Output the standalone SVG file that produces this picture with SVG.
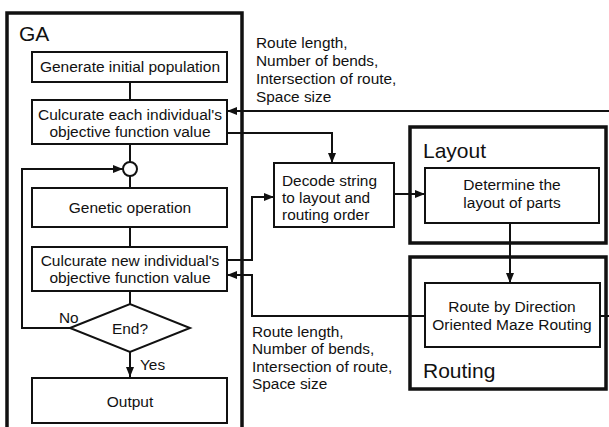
<svg xmlns="http://www.w3.org/2000/svg" width="609" height="427" viewBox="0 0 609 427">
<style>
text{font-family:"Liberation Sans",Arial,sans-serif;fill:#111}
.box{fill:#fff;stroke:#111;stroke-width:2}
.frame{fill:none;stroke:#111;stroke-width:3.5}
.t{font-size:15.5px;text-anchor:middle}
.lbl{font-size:15.4px}
.big{font-size:21px}
.c{fill:none;stroke:#111;stroke-width:2}
</style>
<defs>
<marker id="ah" markerWidth="10" markerHeight="8" refX="10" refY="4" orient="auto" markerUnits="userSpaceOnUse">
<path d="M0,0 L10,4 L0,8 z" fill="#111"/>
</marker>
</defs>
<rect width="609" height="427" fill="#fff"/>
<g id="ga-frame">
<path class="frame" d="M7,432 V13 H242 V432"/>
<text class="big" x="19" y="41">GA</text>
</g>
<g id="layout-frame">
<rect class="frame" x="410" y="127" width="196" height="116"/>
<text class="big" x="423" y="158">Layout</text>
</g>
<g id="routing-frame">
<rect class="frame" x="410" y="257" width="196" height="132"/>
<text class="big" x="423" y="378">Routing</text>
</g>
<g id="connectors">
<path class="c" d="M130,82 V100"/>
<path class="c" d="M130,144 V162"/>
<path class="c" d="M130,176 V188"/>
<path class="c" d="M130,227 V247"/>
<path class="c" d="M130,291 V304"/>
<path class="c" marker-end="url(#ah)" d="M130,352 V377"/>
<path class="c" marker-end="url(#ah)" d="M70,328 H22 V169 H123"/>
<path class="c" marker-end="url(#ah)" d="M609,111 H227"/>
<path class="c" marker-end="url(#ah)" d="M227,133 H332 V163"/>
<path class="c" marker-end="url(#ah)" d="M227,260 H252 V197 H274"/>
<path class="c" marker-end="url(#ah)" d="M425,316 H252 V275 H227"/>
<path class="c" marker-end="url(#ah)" d="M394,194 H425"/>
<path class="c" marker-end="url(#ah)" d="M510,223 V283"/>
<path class="c" d="M600,316 H609"/>
</g>
<g id="merge">
<circle cx="130" cy="169" r="7" fill="#fff" stroke="#111" stroke-width="2"/>
</g>
<g id="gen-init">
<rect class="box" x="32" y="52" width="195" height="30"/>
<text class="t" x="130" y="72">Generate initial population</text>
</g>
<g id="calc-each">
<rect class="box" x="32" y="100" width="195" height="44"/>
<text class="t" x="130" y="120">Culcurate each individual's</text>
<text class="t" x="130" y="137">objective function value</text>
</g>
<g id="genetic">
<rect class="box" x="32" y="188" width="195" height="39"/>
<text class="t" x="130" y="213">Genetic operation</text>
</g>
<g id="calc-new">
<rect class="box" x="32" y="247" width="195" height="44"/>
<text class="t" x="130" y="266">Culcurate new individual's</text>
<text class="t" x="130" y="283">objective function value</text>
</g>
<g id="end">
<path class="box" d="M70,328 L130,304 L190,328 L130,352 z"/>
<text class="t" x="130" y="334">End?</text>
<text class="lbl" x="59" y="323">No</text>
<text class="lbl" x="140" y="370">Yes</text>
</g>
<g id="output">
<rect class="box" x="32" y="378" width="195" height="45"/>
<text class="t" x="130" y="407">Output</text>
</g>
<g id="decode">
<rect class="box" x="274" y="163" width="120" height="64"/>
<text class="lbl" x="282" y="186">Decode string</text>
<text class="lbl" x="282" y="203">to layout and</text>
<text class="lbl" x="282" y="220">routing order</text>
</g>
<g id="determine">
<rect class="box" x="425" y="168" width="174" height="55"/>
<text class="t" x="512" y="190">Determine the</text>
<text class="t" x="512" y="208">layout of parts</text>
</g>
<g id="route">
<rect class="box" x="425" y="283" width="175" height="64"/>
<text class="t" x="512" y="312">Route by Direction</text>
<text class="t" x="512" y="330">Oriented Maze Routing</text>
</g>
<g id="label-top">
<text class="lbl" x="256" y="48">Route length,</text>
<text class="lbl" x="256" y="66">Number of bends,</text>
<text class="lbl" x="256" y="84">Intersection of route,</text>
<text class="lbl" x="256" y="102">Space size</text>
</g>
<g id="label-bottom">
<text class="lbl" x="252" y="337">Route length,</text>
<text class="lbl" x="252" y="354">Number of bends,</text>
<text class="lbl" x="252" y="372">Intersection of route,</text>
<text class="lbl" x="252" y="389">Space size</text>
</g>
</svg>
